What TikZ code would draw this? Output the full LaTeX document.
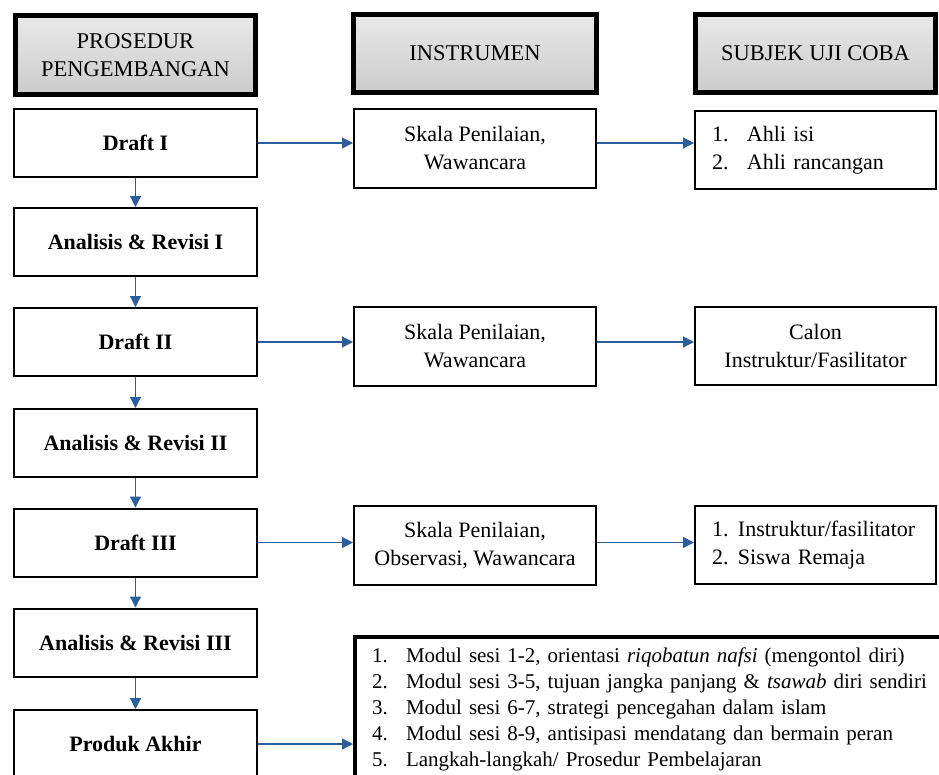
\documentclass[tikz,border=0pt]{standalone}
\usepackage{fontspec}
\setmainfont{Liberation Serif}
\usetikzlibrary{arrows.meta,calc}
\definecolor{arrowblue}{HTML}{2B5E9E}
\begin{document}
\begin{tikzpicture}[x=1pt,y=-1pt,
  txt/.style={font=\fontsize{22}{28}\selectfont},
  box/.style={draw=black, line width=2pt, fill=white, inner sep=0pt, align=center, txt},
  stepbox/.style={box, minimum width=243pt, minimum height=68pt, font=\fontsize{22}{28}\selectfont\bfseries},
  instbox/.style={box, minimum width=242pt, minimum height=79pt},
  subjbox/.style={box, minimum width=241pt, minimum height=78pt},
  listbox/.style={subjbox, align=left, inner xsep=17pt, text width=207pt},
  headbox/.style={draw=black, line width=5pt, fill=white, inner sep=0pt, align=center,
    font=\fontsize{22.5}{28}\selectfont,
    path picture={\shade[top color=black!9, bottom color=black!20]
      ($(path picture bounding box.south west)+(3pt,3pt)$) rectangle
      ($(path picture bounding box.north east)+(-3pt,-3pt)$);}},
  arr/.style={draw=arrowblue, line width=1.2pt, -{Triangle[length=11pt,width=11pt]}}
]
\useasboundingbox (0,0) rectangle (939,774);
\clip (0,0) rectangle (939,774);
\fill[white] (0,0) rectangle (939,774);

% headers
\node[headbox, minimum width=240pt, minimum height=79pt] (h1) at (135.5,55) {PROSEDUR\\PENGEMBANGAN};
\node[headbox, minimum width=243pt, minimum height=78pt] (h2) at (475,53.5) {INSTRUMEN};
\node[headbox, minimum width=240pt, minimum height=78pt] (h3) at (815.5,53.5) {SUBJEK UJI COBA};

% left column
\node[stepbox] (d1) at (135.5,143) {Draft I};
\node[stepbox] (a1) at (135.5,242) {Analisis \& Revisi I};
\node[stepbox] (d2) at (135.5,342) {Draft II};
\node[stepbox] (a2) at (135.5,443) {Analisis \& Revisi II};
\node[stepbox] (d3) at (135.5,542.5) {Draft III};
\node[stepbox] (a3) at (135.5,642.5) {Analisis \& Revisi III};
\node[stepbox] (pa) at (135.5,744) {Produk Akhir};

% instrument column
\node[instbox] (s1) at (475,148.5) {Skala Penilaian,\\Wawancara};
\node[instbox] (s2) at (475,346) {Skala Penilaian,\\Wawancara};
\node[instbox] (s3) at (475,545.5) {Skala Penilaian,\\Observasi, Wawancara};

% subject column
\node[listbox] (t1) at (815.5,150) {\makebox[35pt][l]{1.}Ahli isi\\\makebox[35pt][l]{2.}Ahli rancangan};
\node[subjbox] (t2) at (815.5,345.5) {Calon\\Instruktur/Fasilitator};
\node[listbox] (t3) at (815.5,545) {\makebox[26pt][l]{1.}Instruktur/fasilitator\\\makebox[26pt][l]{2.}Siswa Remaja};

% modul box
\node[draw=black, line width=4pt, fill=white, anchor=north west, align=left,
      font=\fontsize{21}{26}\selectfont,
      inner xsep=17pt, inner ysep=11pt, text width=640pt] (md) at (353,635)
 {\makebox[34pt][l]{1.}Modul sesi 1-2, orientasi \textit{riqobatun nafsi} (mengontol diri)\\
  \makebox[34pt][l]{2.}Modul sesi 3-5, tujuan jangka panjang \& \textit{tsawab} diri sendiri\\
  \makebox[34pt][l]{3.}Modul sesi 6-7, strategi pencegahan dalam islam\\
  \makebox[34pt][l]{4.}Modul sesi 8-9, antisipasi mendatang dan bermain peran\\
  \makebox[34pt][l]{5.}Langkah-langkah/ Prosedur Pembelajaran};

% vertical arrows
\draw[arr] (d1.south) -- (a1.north);
\draw[arr] (a1.south) -- (d2.north);
\draw[arr] (d2.south) -- (a2.north);
\draw[arr] (a2.south) -- (d3.north);
\draw[arr] (d3.south) -- (a3.north);
\draw[arr] (a3.south) -- (pa.north);

% horizontal arrows
\draw[arr] (d1.east) -- (d1.east -| s1.west);
\draw[arr] (s1.east |- d1.east) -- (d1.east -| t1.west);
\draw[arr] (d2.east) -- (d2.east -| s2.west);
\draw[arr] (s2.east |- d2.east) -- (d2.east -| t2.west);
\draw[arr] (d3.east) -- (d3.east -| s3.west);
\draw[arr] (s3.east |- d3.east) -- (d3.east -| t3.west);
\draw[arr] (pa.east) -- (pa.east -| md.west);
\end{tikzpicture}
\end{document}
